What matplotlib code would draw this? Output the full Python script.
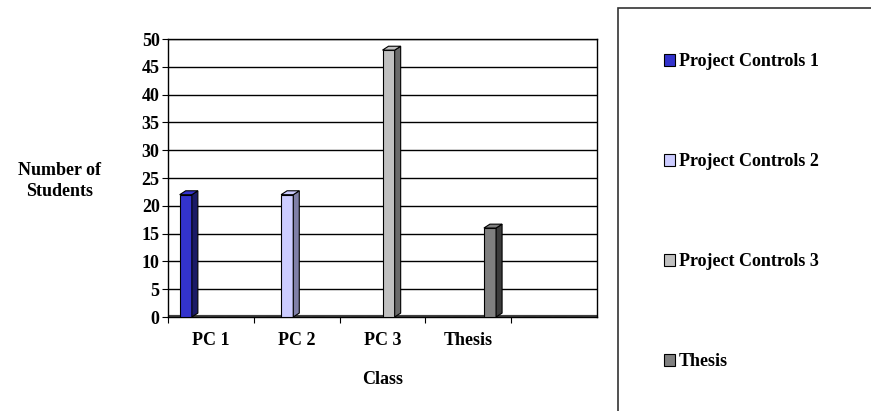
import numpy as np
import matplotlib.pyplot as plt
from matplotlib.patches import Rectangle

categories = ['PC 1', 'PC 2', 'PC 3', 'Thesis', '']
series = ['Project Controls 1', 'Project Controls 2', 'Project Controls 3', 'Thesis']
values = [
    [22, 0, 0, 0, 0],
    [0, 22, 0, 0, 0],
    [0, 0, 48, 0, 0],
    [0, 0, 0, 16, 0],
]
face_colors = ['#3333cc', '#ccccff', '#c0c0c0', '#808080']
side_colors = ['#1a1a66', '#8080a8', '#6a6a6a', '#3c3c3c']

plt.rcParams['font.family'] = ['Liberation Serif', 'DejaVu Serif']
plt.rcParams['font.weight'] = 'bold'

fig = plt.figure(figsize=(8.71, 4.11), dpi=100)
ax = fig.add_axes([168 / 871, 1 - 317 / 411, (597 - 168) / 871, (317 - 39) / 411])

n_cat = len(categories)
w = 1 / 5.5
x = np.arange(n_cat)
depth_x = 0.07
depth_y = 0.7

handles = []
for j, name in enumerate(series):
    left = x + 0.75 * w + j * w
    vals = np.array(values[j], dtype=float)
    b = ax.bar(left, vals, width=w * 0.78, align='edge', color=face_colors[j],
               edgecolor='black', linewidth=0.8, zorder=3, label=name)
    handles.append(b)
    for l, v in zip(left, vals):
        if v <= 0:
            continue
        r = l + w * 0.78
        # side face
        ax.fill([r, r + depth_x, r + depth_x, r], [0, depth_y, v + depth_y, v],
                color=side_colors[j], edgecolor='black', linewidth=0.8, zorder=3)
        # top face
        ax.fill([l, l + depth_x, r + depth_x, r], [v, v + depth_y, v + depth_y, v],
                color=face_colors[j], edgecolor='black', linewidth=0.8, zorder=3)

ax.set_xlim(0, n_cat)
ax.set_ylim(0, 50)
ax.set_yticks(np.arange(0, 51, 5))
ax.set_xticks(x, minor=False)
ax.set_xticks(x + 0.5, minor=True)
ax.set_xticklabels([])
ax.set_xticklabels(categories, minor=True)
ax.tick_params(axis='x', which='minor', length=0, pad=11, labelsize=13)
ax.tick_params(axis='x', which='major', length=4, direction='out')
ax.tick_params(axis='y', length=4, direction='out', pad=2, labelsize=13)
ax.grid(axis='y', color='black', linewidth=1, zorder=0)
ax.axhline(0, color='#404040', linewidth=3, zorder=2)
for s in ax.spines.values():
    s.set_linewidth(1)

ax.set_xlabel('Class', fontsize=13, fontweight='bold', labelpad=16)
fig.text(60 / 871, 1 - 181 / 411, 'Number of\nStudents', ha='center', va='center',
         fontsize=13, fontweight='bold', linespacing=1.3)

# legend box
fig.patches.append(Rectangle((618 / 871, -0.05), 0.4, 1 - 8 / 411 + 0.05,
                             transform=fig.transFigure, fill=False,
                             edgecolor='#333333', linewidth=1.2))
fig.legend(handles=handles, loc='upper left', bbox_to_anchor=(657 / 871, 1 - 46 / 411),
           frameon=False, fontsize=13, labelspacing=4.6, handlelength=0.6,
           handleheight=0.6, handletextpad=0.2, borderaxespad=0)

fig.savefig('out.png', dpi=100)
